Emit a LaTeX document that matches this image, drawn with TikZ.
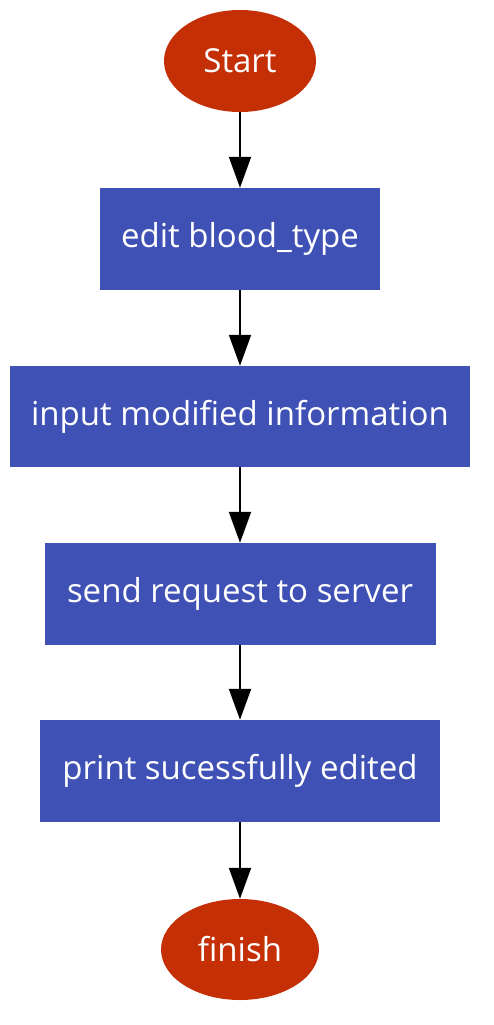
\documentclass[tikz,border=0pt]{standalone}
\usepackage{fontspec}
\setmainfont{Open Sans}
\usetikzlibrary{arrows.meta,shapes.geometric}
\definecolor{boxblue}{HTML}{3F51B5}
\definecolor{termred}{HTML}{C42F06}
\tikzset{
  term/.style={ellipse, fill=termred, draw=none, inner sep=0pt, text=white, font=\fontsize{33}{40}\selectfont},
  stepbox/.style={rectangle, fill=boxblue, draw=none, inner sep=0pt, text=white, minimum height=102pt, font=\fontsize{33}{40}\selectfont},
  conn/.style={line width=2pt, -{Triangle[width=22pt,length=31pt]}}
}
\begin{document}
\begin{tikzpicture}[x=1pt,y=-1pt]
\useasboundingbox (0,0) rectangle (494,1025);
\node[term, minimum width=152pt, minimum height=102pt] (start) at (240,61) {Start};
\node[stepbox, minimum width=280pt] (b1) at (240,239) {edit blood\_type};
\node[stepbox, minimum width=460pt, minimum height=101pt] (b2) at (240,416.5) {input modified information};
\node[stepbox, minimum width=391pt] (b3) at (240,594) {send request to server};
\node[stepbox, minimum width=400pt] (b4) at (240,771) {print sucessfully edited};
\node[term, minimum width=158pt, minimum height=101pt] (finish) at (240,949.5) {finish};
\draw[conn] (start) -- (b1);
\draw[conn] (b1) -- (b2);
\draw[conn] (b2) -- (b3);
\draw[conn] (b3) -- (b4);
\draw[conn] (b4) -- (finish);
\end{tikzpicture}
\end{document}
